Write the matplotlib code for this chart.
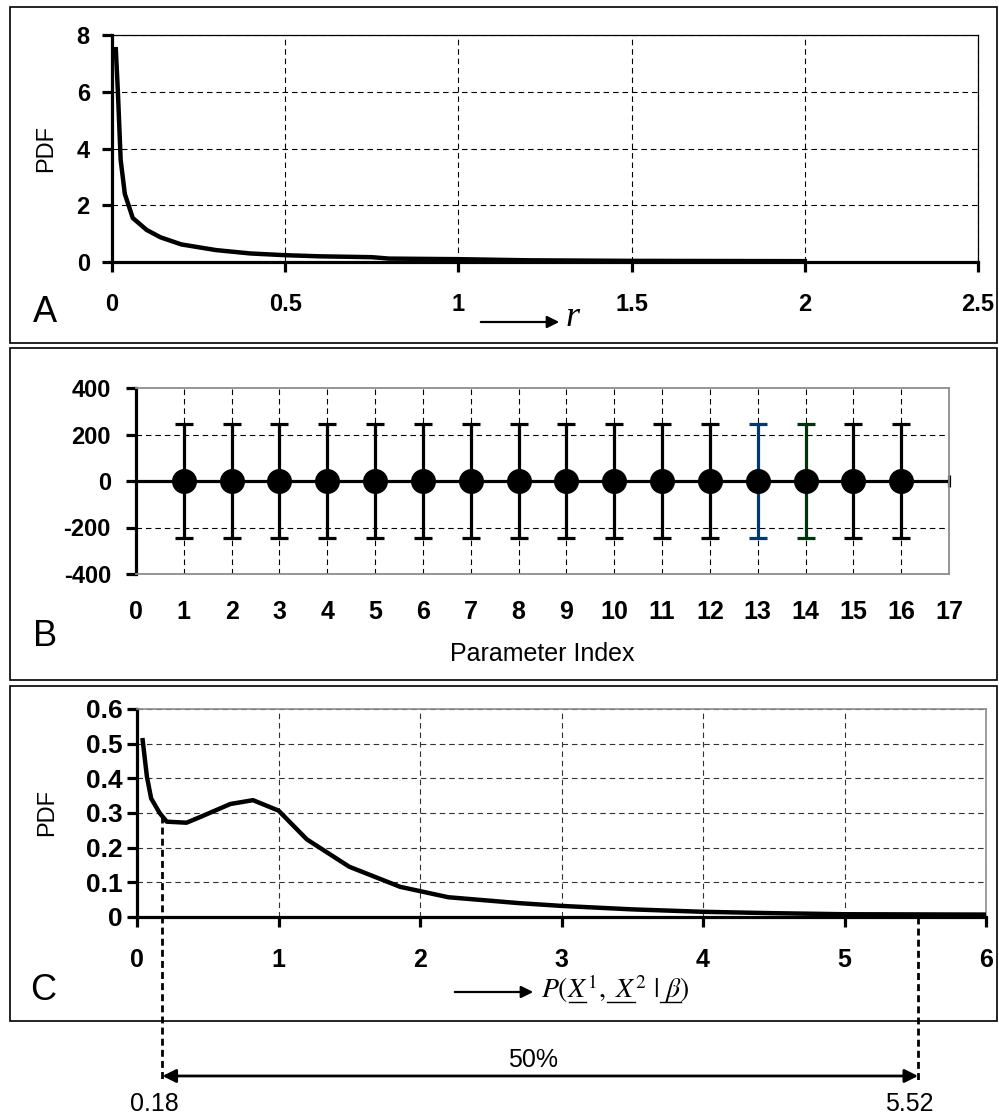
import numpy as np
import matplotlib.pyplot as plt
from matplotlib.patches import Rectangle
from matplotlib.lines import Line2D

plt.rcParams['font.family'] = ['Liberation Sans', 'DejaVu Sans']
plt.rcParams['axes.unicode_minus'] = False
plt.rcParams['mathtext.fontset'] = 'stix'

W, H = 999, 1118

# panel A - pdf of r
r_vals = [0.011, 0.017, 0.025, 0.037, 0.06, 0.1, 0.14, 0.2, 0.3, 0.4, 0.5,
          0.6, 0.75, 0.8, 1.0, 1.2, 1.5, 2.0]
r_pdf = [7.5, 6.0, 3.6, 2.4, 1.55, 1.13, 0.87, 0.62, 0.42, 0.3, 0.24,
         0.2, 0.17, 0.12, 0.1, 0.06, 0.04, 0.03]
a_xticks = [0, 0.5, 1, 1.5, 2, 2.5]
a_xlabels = ['0', '0.5', '1', '1.5', '2', '2.5']
a_yticks = [0, 2, 4, 6, 8]

# panel B - parameters with error bars
param_idx = list(range(1, 17))
param_mean = [0] * 16
param_err = [245] * 16
b_xticks = list(range(0, 18))
b_yticks = [-400, -200, 0, 200, 400]

# panel C - pdf of P(X1, X2 | beta)
p_vals = [0.04, 0.07, 0.1, 0.16, 0.21, 0.35, 0.45, 0.66, 0.82, 1.0, 1.2, 1.5,
          1.86, 2.2, 2.7, 3.0, 3.5, 4.0, 4.5, 5.0, 6.0]
p_pdf = [0.51, 0.405, 0.342, 0.30, 0.275, 0.272, 0.289, 0.326, 0.337, 0.307,
         0.224, 0.145, 0.087, 0.057, 0.04, 0.032, 0.022, 0.015, 0.011, 0.008, 0.007]
c_xticks = [0, 1, 2, 3, 4, 5, 6]
c_yticks = [0, 0.1, 0.2, 0.3, 0.4, 0.5, 0.6]
c_ylabels = ['0', '0.1', '0.2', '0.3', '0.4', '0.5', '0.6']
interval = [0.18, 5.52]
interval_txt = '50%'


def px_axes(l, t, r, b):
    return fig.add_axes([l / W, 1 - b / H, (r - l) / W, (b - t) / H])


def fpos(x, y):
    return (x / W, 1 - y / H)


fig = plt.figure(figsize=(W / 100, H / 100), dpi=100)

# outer panel boxes
for top, bot in [(7, 343), (348, 680), (686, 1021)]:
    fig.add_artist(Rectangle(fpos(10, bot), 987 / W, (bot - top) / H,
                             transform=fig.transFigure, fill=False, lw=1.2, ec='k'))

dash = (0, (5, 3.5))

# ---------------- A
axA = px_axes(112, 35, 978, 262)
axA.plot(r_vals, r_pdf, color='k', lw=3.2, zorder=3)
axA.set_xlim(0, 2.5)
axA.set_ylim(0, 8)
axA.set_xticks(a_xticks)
axA.set_xticklabels(a_xlabels, fontsize=17, fontweight='bold')
axA.set_yticks(a_yticks)
axA.set_yticklabels([str(v) for v in a_yticks], fontsize=17, fontweight='bold')
axA.grid(True, ls=dash, color='k', lw=0.8)
axA.set_axisbelow(True)
for s in ['left', 'bottom']:
    axA.spines[s].set_linewidth(2.3)
for s in ['top', 'right']:
    axA.spines[s].set_linewidth(0.9)
axA.tick_params(axis='x', direction='out', length=7, width=2.3, pad=15)
axA.tick_params(axis='y', direction='out', length=7, width=2.3, pad=9)
axA.set_ylabel('PDF', fontsize=17, labelpad=14)

fig.text(*fpos(45, 313), 'A', fontsize=26, ha='center', va='center')
axA.annotate('', xy=fpos(562, 322), xytext=fpos(478, 322), xycoords='figure fraction',
             arrowprops=dict(arrowstyle='-|>', lw=1.6, color='k', mutation_scale=18))
fig.text(*fpos(566, 318), 'r', family=['Liberation Serif', 'DejaVu Serif'],
         style='italic', fontsize=26, va='center')

# ---------------- B
axB = px_axes(136, 388, 949, 574)
axB.set_xlim(0, 17)
axB.set_ylim(-400, 400)
axB.axhline(0, color='k', lw=2.3, zorder=2)
axB.plot([17], [0], marker='|', ms=8, mew=2.3, color='k', clip_on=False)
bar_colors = {13: '#003a70', 14: '#00330a'}
cap_colors = {1: '#000080', 13: '#003a70', 14: '#00330a'}
for i, m, e in zip(param_idx, param_mean, param_err):
    c = bar_colors.get(i, 'k')
    eb = axB.errorbar([i], [m], yerr=[e], fmt='none', ecolor=c, elinewidth=2.3,
                      capsize=6.5, capthick=2.3, zorder=3)
    for cap in eb[1]:
        cap.set_color(cap_colors.get(i, 'k'))
axB.plot(param_idx, param_mean, 'o', color='k', ms=17, zorder=4, ls='none')
axB.set_xticks(b_xticks)
axB.set_xticklabels([str(v) for v in b_xticks], fontsize=18, fontweight='bold')
axB.set_yticks(b_yticks)
axB.set_yticklabels([str(v) for v in b_yticks], fontsize=17, fontweight='bold')
for yv in [-200, 200]:
    axB.axhline(yv, ls=dash, color='k', lw=0.8, zorder=1)
for xv in param_idx:
    axB.axvline(xv, ls=dash, color='k', lw=0.8, zorder=1)
axB.spines['left'].set_linewidth(2.3)
for s in ['top', 'right', 'bottom']:
    axB.spines[s].set_color('#8c8c8c')
    axB.spines[s].set_linewidth(1.3)
axB.tick_params(axis='x', which='both', length=0, pad=19)
axB.tick_params(axis='y', direction='out', length=7, width=2.3, pad=11)
axB.set_xlabel('Parameter Index', fontsize=18, labelpad=13)
fig.text(*fpos(45, 636), 'B', fontsize=26, ha='center', va='center')

# ---------------- C
axC = px_axes(137, 709, 986, 917)
axC.plot(p_vals, p_pdf, color='k', lw=3.2, zorder=3)
axC.set_xlim(0, 6)
axC.set_ylim(0, 0.6)
axC.set_xticks(c_xticks)
axC.set_xticklabels([str(v) for v in c_xticks], fontsize=18, fontweight='bold')
axC.set_yticks(c_yticks)
axC.set_yticklabels(c_ylabels, fontsize=19, fontweight='bold')
axC.grid(True, ls=dash, color='#333333', lw=0.8)
axC.set_axisbelow(True)
for s in ['left', 'bottom']:
    axC.spines[s].set_linewidth(2.3)
for s in ['top', 'right']:
    axC.spines[s].set_color('#8c8c8c')
    axC.spines[s].set_linewidth(1.2)
axC.tick_params(axis='x', direction='out', length=7, width=2.3, pad=15)
axC.tick_params(axis='y', direction='out', length=7, width=2.3, pad=3)
axC.set_ylabel('PDF', fontsize=17, labelpad=20)
fig.text(*fpos(43, 990), 'C', fontsize=26, ha='center', va='center')

axC.annotate('', xy=fpos(536, 992), xytext=fpos(452, 992), xycoords='figure fraction',
             arrowprops=dict(arrowstyle='-|>', lw=1.6, color='k', mutation_scale=18))

# x-label of C with underlined symbols (mathtext has no \underline)
lab_x, lab_base = fpos(541, 998)
lab_fs = 20
full = r'$P(X^1,\ X^2\ |\ \beta)$'
under_parts = [(r'$P($', r'$P(X$'),
               (r'$P(X^1,\ $', r'$P(X^1,\ X$'),
               (r'$P(X^1,\ X^2\ |\ $', r'$P(X^1,\ X^2\ |\ \beta$')]
fig.text(lab_x, lab_base, full, fontsize=lab_fs, va='baseline')
fig.canvas.draw()
rend = fig.canvas.get_renderer()


def text_w(s):
    t = fig.text(0, 0, s, fontsize=lab_fs, va='baseline')
    w = t.get_window_extent(rend).width
    t.remove()
    return w


x0 = lab_x * W
for a, b in under_parts:
    xa = x0 + text_w(a) + 1
    xb = x0 + text_w(b) - 1
    yy = lab_base * H - 4
    fig.add_artist(Line2D([xa / W, xb / W], [yy / H, yy / H], color='k', lw=1,
                          transform=fig.transFigure))

# 50% interval below panel C
y_line = -0.47
lo_y = float(np.interp(interval[0], p_vals, p_pdf))
axC.plot([interval[0], interval[0]], [lo_y, y_line], ls=(0, (2.5, 1.5)), color='k',
         lw=2, clip_on=False, zorder=5)
axC.plot([interval[1], interval[1]], [0, y_line], ls=(0, (2.5, 1.5)), color='k',
         lw=2, clip_on=False, zorder=5)
axC.annotate('', xy=(interval[0], -0.4586), xytext=(interval[1], -0.4586),
             xycoords='data', annotation_clip=False,
             arrowprops=dict(arrowstyle='<|-|>', lw=2, color='k', mutation_scale=20,
                             shrinkA=0, shrinkB=0))
axC.text(np.mean(interval) - 0.05, -0.4125, interval_txt, fontsize=18, ha='center',
         va='center', clip_on=False)
for v in interval:
    axC.annotate('%.2f' % v, xy=(v, -0.54), xycoords='data', xytext=(-6, 0),
                 textcoords='offset points', fontsize=18, ha='center', va='center',
                 annotation_clip=False)

fig.savefig('out.png', dpi=100)
